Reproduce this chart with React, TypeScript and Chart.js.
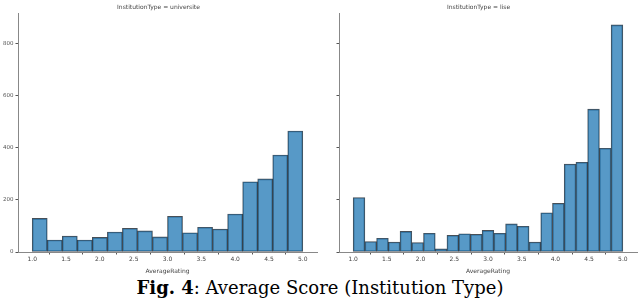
import React, { useEffect, useRef } from "react";
import { Chart, registerables } from "chart.js";

Chart.register(...registerables);

const RANGE_MIN = 1.0;
const RANGE_MAX = 5.0;
const X_TICKS = [1.0, 1.5, 2.0, 2.5, 3.0, 3.5, 4.0, 4.5, 5.0];
const Y_TICKS = [0, 200, 400, 600, 800];

const UNIVERSITE_COUNTS = [129, 46, 61, 46, 56, 77, 91, 81, 58, 137, 74, 95, 88, 146, 270, 281, 373, 465];
const LISE_COUNTS = [209, 40, 53, 38, 79, 36, 72, 12, 64, 70, 68, 83, 72, 108, 99, 38, 151, 187, 338, 345, 549, 399, 873];

const PANEL_TITLES = ["InstitutionType = universite", "InstitutionType = lise"];
const X_TITLE = "AverageRating";

function toPoints(counts: number[]) {
  const w = (RANGE_MAX - RANGE_MIN) / counts.length;
  return counts.map((c, i) => ({ x: RANGE_MIN + (i + 0.5) * w, y: c }));
}

function Panel({ counts, title, showY, yWidth }: { counts: number[]; title: string; showY: boolean; yWidth: number }) {
  const ref = useRef<HTMLCanvasElement | null>(null);
  useEffect(() => {
    if (!ref.current) return;
    const chart = new Chart(ref.current, {
      type: "bar",
      data: {
        datasets: [
          {
            data: toPoints(counts),
            backgroundColor: "rgba(31,119,180,0.75)",
            borderColor: "rgba(25,35,45,0.8)",
            borderWidth: 0.9,
            borderSkipped: false,
            barPercentage: 1,
            categoryPercentage: 1,
          },
        ],
      },
      options: {
        animation: false,
        responsive: false,
        layout: { padding: { left: 0, right: 3, top: 0, bottom: 0 } },
        plugins: {
          legend: { display: false },
          tooltip: { enabled: false },
          title: {
            display: true,
            text: title,
            color: "#444",
            font: { family: "DejaVu Sans", size: 6, weight: "normal" },
            padding: { top: 4, bottom: 2 },
          },
        },
        scales: {
          x: {
            type: "linear",
            min: 0.79,
            max: 5.21,
            offset: false,
            afterBuildTicks: (s: any) => {
              s.ticks = X_TICKS.map((v) => ({ value: v }));
            },
            afterFit: (s: any) => {
              s.height = 23;
            },
            ticks: {
              autoSkip: false,
              maxRotation: 0,
              color: "#444",
              font: { family: "DejaVu Sans", size: 6 },
              padding: 1,
              callback: (v: any) => Number(v).toFixed(1),
            },
            grid: { display: true, drawOnChartArea: false, drawTicks: true, tickLength: 2.5, color: "#555" },
            border: { display: true, color: "#888", width: 1 },
            title: { display: true, text: X_TITLE, color: "#444", font: { family: "DejaVu Sans", size: 6 }, padding: { top: 0, bottom: 0 } },
          },
          y: {
            type: "linear",
            min: 0,
            max: 918,
            afterBuildTicks: (s: any) => {
              s.ticks = Y_TICKS.map((v) => ({ value: v }));
            },
            afterFit: (s: any) => {
              s.width = yWidth;
            },
            ticks: {
              display: showY,
              color: "#555",
              font: { family: "DejaVu Sans", size: 5.5 },
              padding: 2,
            },
            grid: { display: true, drawOnChartArea: false, drawTicks: true, tickLength: 2.5, color: "#555" },
            border: { display: true, color: "#888", width: 1 },
          },
        },
      },
    });
    return () => chart.destroy();
  }, [counts, title, showY, yWidth]);
  return <canvas ref={ref} width={320} height={275} style={{ display: "block", width: 320, height: 275 }} />;
}

export default function App() {
  return (
    <div style={{ position: "fixed", left: 0, top: 0, width: 640, height: 301, background: "#fff", overflow: "hidden" }}>
      <div style={{ position: "absolute", left: 0, top: 0 }}>
        <Panel counts={UNIVERSITE_COUNTS} title={PANEL_TITLES[0]} showY={true} yWidth={18} />
      </div>
      <div style={{ position: "absolute", left: 320, top: 0 }}>
        <Panel counts={LISE_COUNTS} title={PANEL_TITLES[1]} showY={false} yWidth={19} />
      </div>
      <div
        style={{
          position: "absolute",
          left: 0,
          top: 276,
          width: 640,
          textAlign: "center",
          fontFamily: "'DejaVu Serif', serif",
          fontSize: 18,
          lineHeight: "24px",
          color: "#000",
        }}
      >
        <b>Fig. 4</b>: Average Score (Institution Type)
      </div>
    </div>
  );
}
